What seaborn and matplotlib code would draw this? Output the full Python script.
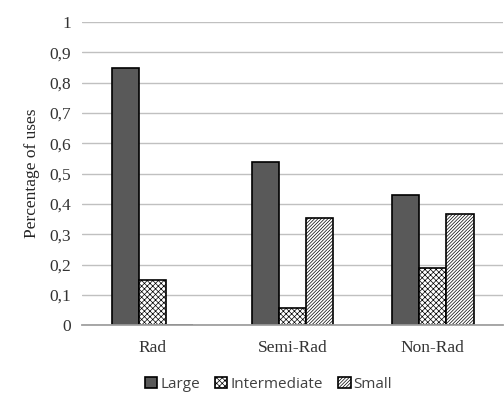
import pandas as pd
import matplotlib
matplotlib.use('Agg')
import matplotlib.pyplot as plt
import seaborn as sns
from matplotlib.ticker import FuncFormatter

# chart values
categories = ['Rad', 'Semi-Rad', 'Non-Rad']
sizes = ['Large', 'Intermediate', 'Small']
large = [0.85, 0.54, 0.43]
intermediate = [0.15, 0.056, 0.188]
small = [0.0, 0.353, 0.366]

df = pd.DataFrame({
    'category': categories * 3,
    'size': ['Large'] * 3 + ['Intermediate'] * 3 + ['Small'] * 3,
    'value': large + intermediate + small,
})

sns.set_style('white')
plt.rcParams['font.family'] = ['Liberation Serif', 'DejaVu Serif']
plt.rcParams['hatch.linewidth'] = 0.5

fig = plt.figure(figsize=(5.04, 3.96), dpi=100)
ax = fig.add_axes([0.163, 0.179, 0.835, 0.765])

colors = {'Large': '#595959', 'Intermediate': 'white', 'Small': 'white'}
sns.barplot(data=df, x='category', y='value', hue='size', hue_order=sizes,
            palette=colors, width=0.58, edgecolor='black', linewidth=1.2,
            ax=ax, legend=True)

# hatch patterns for the lighter bars
hatches = {'Large': '', 'Intermediate': 'xxxxxx', 'Small': '//////////'}
for cont, name in zip(ax.containers, sizes):
    for bar in cont:
        bar.set_hatch(hatches[name])

ax.set_ylim(0, 1)
ax.set_yticks([i / 10 for i in range(11)])
ax.yaxis.set_major_formatter(FuncFormatter(lambda v, p: ('%g' % round(v, 1)).replace('.', ',')))
ax.grid(axis='y', color='#c0c0c0', linewidth=1)
ax.set_axisbelow(True)
for s in ['left', 'right', 'top']:
    ax.spines[s].set_visible(False)
ax.spines['bottom'].set_color('#a0a0a0')
ax.spines['bottom'].set_linewidth(1.3)
ax.tick_params(axis='both', length=0, labelsize=12.5, colors='#333333', pad=8)
ax.tick_params(axis='x', pad=11)
ax.set_xlabel('')
ax.set_ylabel('Percentage of uses', fontsize=12.5, color='#262626', labelpad=7)

handles, labels = ax.get_legend_handles_labels()
leg = ax.legend(handles, labels, loc='upper center', bbox_to_anchor=(0.443, -0.125),
                ncol=3, frameon=False, handlelength=0.8, handleheight=0.8,
                handletextpad=0.2, columnspacing=1.0,
                prop={'family': 'Open Sans', 'size': 11})
for h, name in zip(leg.legend_handles, sizes):
    h.set_hatch(hatches[name])
    h.set_edgecolor('black')
for t in leg.get_texts():
    t.set_color('#404040')

fig.savefig('out.png', dpi=100)
